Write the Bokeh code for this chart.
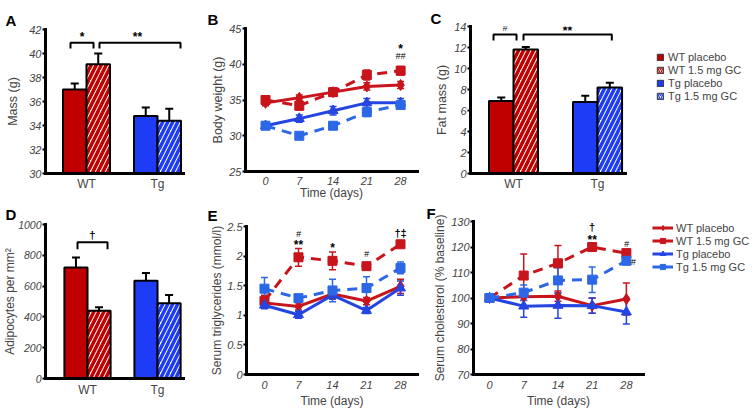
from bokeh.plotting import figure
from bokeh.layouts import column, row
from bokeh.models import (ColumnDataSource, Whisker, TeeHead, Label, FixedTicker,
                          NumeralTickFormatter, Range1d, Legend, LegendItem)
from bokeh.embed import file_html
from bokeh.resources import INLINE

FONT = "Liberation Sans"
RED = "#C00000"
BLUE = "#1E3CF5"
LRED = "#C8141B"
LBLUE = "#2445E2"
LBLUE2 = "#2C68E6"

# ---------------- data ----------------
groups = ["WT", "Tg"]
series_names = ["WT placebo", "WT 1.5 mg GC", "Tg placebo", "Tg 1.5 mg GC"]
days = [0, 7, 14, 21, 28]

# A: body mass (g)
mass_mean = [37.0, 39.1, 34.8, 34.4]
mass_err = [0.5, 0.9, 0.7, 1.0]
# C: fat mass (g)
fat_mean = [6.9, 11.8, 6.8, 8.2]
fat_err = [0.35, 0.25, 0.6, 0.45]
# D: adipocytes per mm2
adipo_mean = [720, 440, 635, 488]
adipo_err = [65, 22, 50, 55]

# B: body weight (g)
bw_wt_pl = [34.6, 35.3, 36.1, 36.9, 37.1]
bw_wt_pl_err = [0.4, 0.4, 0.5, 0.5, 0.5]
bw_wt_gc = [35.0, 34.2, 36.1, 38.5, 39.1]
bw_wt_gc_err = [0.5, 0.6, 0.5, 0.7, 0.6]
bw_tg_pl = [31.4, 32.4, 33.5, 34.6, 34.6]
bw_tg_pl_err = [0.4, 0.5, 0.6, 0.6, 0.6]
bw_tg_gc = [31.4, 30.0, 31.4, 33.3, 34.3]
bw_tg_gc_err = [0.4, 0.4, 0.5, 0.6, 0.6]

# E: serum triglycerides (mmol/l)
tri_wt_pl = [1.21, 1.15, 1.36, 1.24, 1.49]
tri_wt_pl_err = [0.06, 0.06, 0.07, 0.06, 0.12]
tri_wt_gc = [1.24, 1.98, 1.92, 1.83, 2.20]
tri_wt_gc_err = [0.10, 0.15, 0.15, 0.04, 0.05]
tri_tg_pl = [1.17, 1.01, 1.34, 1.08, 1.46]
tri_tg_pl_err = [0.06, 0.06, 0.07, 0.05, 0.12]
tri_tg_gc = [1.45, 1.29, 1.42, 1.46, 1.80]
tri_tg_gc_err = [0.19, 0.05, 0.19, 0.19, 0.10]

# F: serum cholesterol (% baseline)
chol_wt_pl = [100, 100.5, 100.7, 97.0, 99.6]
chol_wt_pl_err = [0, 1.5, 2.0, 3.0, 6.3]
chol_wt_gc = [100, 108.8, 113.6, 120.0, 117.6]
chol_wt_gc_err = [0, 8.5, 7.0, 1.0, 1.0]
chol_tg_pl = [100, 96.8, 97.1, 97.0, 94.5]
chol_tg_pl_err = [0, 4.3, 5.0, 3.0, 4.7]
chol_tg_gc = [100, 102.1, 106.9, 107.2, 114.6]
chol_tg_gc_err = [0, 3.0, 5.0, 5.0, 1.5]

# significance annotations: (x, y, text)
sig_a = [(-0.063, 41.35, "*"), (0.718, 41.35, "**")]
brk_a = [(-0.225, 0.099, 40.9, 40.42), (0.183, 1.324, 40.9, 40.42)]
sig_c = [(-0.1, 13.85, "#"), (0.643, 13.55, "**")]
brk_c = [(-0.238, 0.036, 13.24, 12.67), (0.119, 1.17, 13.24, 12.67)]
sig_d = [(0.07, 935, "\u2020")]
brk_d = [(-0.143, 0.286, 884, 839)]
sig_b = [(28, 42.1, "*"), (28, 41.1, "##")]
sig_e = [(7, 2.37, "#"), (7, 2.18, "**"), (14, 2.13, "*"), (21, 2.04, "#"), (28, 2.39, "\u2020\u2021")]
sig_f = [(21, 127.7, "\u2020"), (21, 122.9, "**"), (28, 121.3, "#"), (29.4, 114.0, "#")]


def base_fig(width, height, xr, yr, borders):
    l, r, t, b = borders
    p = figure(width=width, height=height, x_range=Range1d(*xr), y_range=Range1d(*yr),
               toolbar_location=None, output_backend="svg", frame_align=False,
               min_border_left=l, min_border_right=r, min_border_top=t, min_border_bottom=b)
    p.grid.visible = False
    p.outline_line_color = None
    return p


def style_axes(p, yticks, ylabel, ylab_size, ystd, ytick_size="11px", fmt=None):
    ya = p.yaxis[0]
    ya.ticker = FixedTicker(ticks=yticks)
    if fmt is not None:
        ya.formatter = fmt
    ya.axis_line_width = 3
    ya.axis_line_cap = "square"
    ya.major_tick_out = 3
    ya.major_tick_in = 0
    ya.major_tick_line_width = 2
    ya.minor_tick_line_color = None
    ya.major_label_text_font = FONT
    ya.major_label_text_font_style = "italic"
    ya.major_label_text_font_size = ytick_size
    ya.major_label_standoff = 1
    ya.axis_label = ylabel
    ya.axis_label_text_font = FONT
    ya.axis_label_text_font_style = "normal"
    ya.axis_label_text_font_size = ylab_size
    ya.axis_label_standoff = ystd
    xa = p.xaxis[0]
    xa.axis_line_width = 3
    xa.axis_line_cap = "square"
    xa.major_tick_out = 0
    xa.major_tick_in = 0
    xa.minor_tick_line_color = None
    xa.major_label_text_font = FONT


def add_letter(p, letter, dx, standoff):
    t = p.title
    t.text = letter
    t.align = "left"
    t.offset = dx
    t.standoff = standoff
    t.vertical_align = "bottom"
    t.text_font = FONT
    t.text_font_style = "bold"
    t.text_font_size = "15px"
    t.text_color = "black"


def add_sig(p, sigs):
    for x, y, t in sigs:
        italic = t.startswith("#")
        p.add_layout(Label(x=x, y=y, text=t, text_font=FONT,
                           text_font_style="italic" if italic else "bold",
                           text_font_size="9px" if italic else ("12px" if "*" in t else "11px"),
                           text_align="center", text_baseline="middle", text_color="black"))


def add_brackets(p, brks):
    xs = [[a, a, b, b] for a, b, top, leg in brks]
    ys = [[leg, top, top, leg] for a, b, top, leg in brks]
    p.multi_line(xs=xs, ys=ys, line_color="black", line_width=2)


def bar_panel(means, errs, w, xr, yr, yticks, ylabel, size, borders, ylab_size, ystd,
              ytick_size="11px", xstd=4):
    p = base_fig(size[0], size[1], xr, yr, borders)
    gx = [0, 0, 1, 1]
    off = [-w / 2, w / 2, -w / 2, w / 2]
    src = ColumnDataSource(dict(
        x=[g + o for g, o in zip(gx, off)], top=means,
        upper=[m + e for m, e in zip(means, errs)],
        fill=[RED, "white", BLUE, "white"],
        hatch=[" ", "/", " ", "/"],
        hcol=[RED, RED, BLUE, BLUE]))
    p.vbar(x="x", top="top", bottom=yr[0], width=w, source=src, fill_color="fill",
           line_color="black", line_width=2, hatch_pattern="hatch", hatch_color="hcol",
           hatch_scale=10, hatch_weight=3.5)
    p.add_layout(Whisker(base="x", lower="top", upper="upper", source=src, line_color="black",
                         line_width=2, lower_head=None,
                         upper_head=TeeHead(size=8, line_color="black", line_width=2)))
    style_axes(p, yticks, ylabel, ylab_size, ystd, ytick_size)
    xa = p.xaxis[0]
    xa.ticker = FixedTicker(ticks=[0, 1])
    xa.major_label_overrides = {0: groups[0], 1: groups[1]}
    xa.major_label_text_font_size = "12px"
    xa.major_label_standoff = xstd
    return p


def line_panel(series, xr, yr, yticks, ylabel, size, borders, ylab_size, ystd, xstd, xlstd, fmt=None):
    p = base_fig(size[0], size[1], xr, yr, borders)
    for vals, errs, color, dash, marker, msize in series:
        src = ColumnDataSource(dict(x=days, y=vals,
                                    lo=[v - e for v, e in zip(vals, errs)],
                                    hi=[v + e for v, e in zip(vals, errs)]))
        p.line("x", "y", source=src, line_color=color, line_width=3, line_dash=dash)
        p.add_layout(Whisker(base="x", lower="lo", upper="hi", source=src, line_color=color,
                             line_width=1.5,
                             lower_head=TeeHead(size=7, line_color=color, line_width=1.5),
                             upper_head=TeeHead(size=7, line_color=color, line_width=1.5)))
        p.scatter("x", "y", source=src, marker=marker, size=msize, fill_color=color, line_color=color)
    style_axes(p, yticks, ylabel, ylab_size, ystd, fmt=fmt)
    xa = p.xaxis[0]
    xa.ticker = FixedTicker(ticks=days)
    xa.major_label_text_font_style = "italic"
    xa.major_label_text_font_size = "11px"
    xa.major_label_standoff = xstd
    xa.axis_label = "Time (days)"
    xa.axis_label_text_font = FONT
    xa.axis_label_text_font_style = "normal"
    xa.axis_label_text_font_size = "12px"
    xa.axis_label_standoff = xlstd
    return p


def legend_fig(width, height, left, top):
    f = figure(width=width, height=height, x_range=Range1d(0, 1), y_range=Range1d(0, 1),
               toolbar_location=None, output_backend="svg", x_axis_location=None,
               y_axis_location=None, min_border_left=left, min_border_top=top,
               min_border_right=0, min_border_bottom=0, frame_align=False)
    f.grid.visible = False
    f.outline_line_color = None
    return f


DASH = "10 7"
TOP_H = 202
BOT_H = 208

# ---------- top row ----------
pA = bar_panel(mass_mean, mass_err, 0.331, (-0.577, 1.366), (30, 42), list(range(30, 43, 2)),
               "Mass (g)", (190, TOP_H), (45, 7, 29, 29), "12.5px", 6, xstd=3)
add_brackets(pA, brk_a)
add_sig(pA, sig_a)
add_letter(pA, "A", -40, 2)

pB = line_panel([
    (bw_wt_pl, bw_wt_pl_err, LRED, "solid", "diamond", 11),
    (bw_wt_gc, bw_wt_gc_err, LRED, DASH, "square", 9),
    (bw_tg_pl, bw_tg_pl_err, LBLUE, "solid", "triangle", 10),
    (bw_tg_gc, bw_tg_gc_err, LBLUE2, DASH, "square", 9),
], (-4.15, 31.5), (25, 45), [25, 30, 35, 40, 45], "Body weight (g)", (230, TOP_H),
    (55, 3, 28, 30), "12.5px", 1, 5, -2)
add_sig(pB, sig_b)
add_letter(pB, "B", -38, 1)

pC = bar_panel(fat_mean, fat_err, 0.292, (-0.512, 1.333), (0, 14), list(range(0, 15, 2)),
               "Fat mass (g)", (220, TOP_H), (50, 15, 26, 29), "12.5px", 2, xstd=3)
add_brackets(pC, brk_c)
add_sig(pC, sig_c)
add_letter(pC, "C", -40, -1)

leg1 = legend_fig(115, TOP_H, 16, 50)
items1 = []
for name, fc, hp, hc in zip(series_names, [RED, "white", BLUE, "white"],
                            [" ", "/", " ", "/"], [RED, RED, BLUE, BLUE]):
    # off-range placeholder renderer, used only for its legend swatch
    r = leg1.vbar(x=[-5], top=[-5], bottom=-6, width=0.5, fill_color=fc, line_color="#333333",
                  line_width=1, hatch_pattern=hp, hatch_color=hc, hatch_scale=4, hatch_weight=1.3)
    items1.append(LegendItem(label=name, renderers=[r]))
leg1.add_layout(Legend(items=items1, location="top_left", margin=0, padding=0, spacing=0,
                       glyph_width=8, glyph_height=8, label_height=13, label_standoff=4,
                       border_line_color=None, background_fill_alpha=0,
                       label_text_font=FONT, label_text_font_size="11px"))

# ---------- bottom row ----------
pD = bar_panel(adipo_mean, adipo_err, 0.33, (-0.6, 1.371), (0, 1000), list(range(0, 1001, 200)),
               "Adipocytes per mm\u00b2", (190, BOT_H), (45, 7, 21, 32), "12px", -2, "10.5px")
add_brackets(pD, brk_d)
add_sig(pD, sig_d)
add_letter(pD, "D", -40, 3)

pE = line_panel([
    (tri_wt_pl, tri_wt_pl_err, LRED, "solid", "diamond", 11),
    (tri_wt_gc, tri_wt_gc_err, LRED, DASH, "square", 9),
    (tri_tg_pl, tri_tg_pl_err, LBLUE, "solid", "triangle", 10),
    (tri_tg_gc, tri_tg_gc_err, LBLUE2, DASH, "square", 9),
], (-3.7, 31.5), (0, 2.5), [0, 0.5, 1, 1.5, 2, 2.5], "Serum triglycerides (mmol/l)", (230, BOT_H),
    (56, 3, 22, 32), "12px", 0, 6, 2, fmt=NumeralTickFormatter(format="0.[0]"))
add_sig(pE, sig_e)
add_letter(pE, "E", -39, 5)

pF = line_panel([
    (chol_wt_pl, chol_wt_pl_err, LRED, "solid", "diamond", 11),
    (chol_wt_gc, chol_wt_gc_err, LRED, DASH, "square", 9),
    (chol_tg_pl, chol_tg_pl_err, LBLUE, "solid", "triangle", 10),
    (chol_tg_gc, chol_tg_gc_err, LBLUE2, DASH, "square", 9),
], (-3.27, 31.5), (70, 130), list(range(70, 131, 10)), "Serum cholesterol (% baseline)", (230, BOT_H),
    (53, 7, 18, 32), "12px", 1, 6, 2)
add_sig(pF, sig_f)
add_letter(pF, "F", -47, 0)

leg2 = legend_fig(105, BOT_H, 2, 19)
items2 = []
for name, col, mk, ms in zip(series_names, [LRED, LRED, LBLUE, LBLUE2],
                             ["diamond", "square", "triangle", "square"], [11, 9, 10, 9]):
    # off-range placeholder renderers, used only for their legend swatches
    rl = leg2.line(x=[-5, -4], y=[-5, -5], line_color=col, line_width=3)
    rm = leg2.scatter(x=[-5], y=[-5], marker=mk, size=ms, fill_color=col, line_color=col)
    items2.append(LegendItem(label=name, renderers=[rl, rm]))
leg2.add_layout(Legend(items=items2, location="top_left", margin=0, padding=0, spacing=0,
                       glyph_width=21, glyph_height=13, label_height=13, label_standoff=3,
                       border_line_color=None, background_fill_alpha=0,
                       label_text_font=FONT, label_text_font_size="11px"))

layout = column(row(pA, pB, pC, leg1), row(pD, pE, pF, leg2))
open("out.html", "w").write(file_html(layout, INLINE))
